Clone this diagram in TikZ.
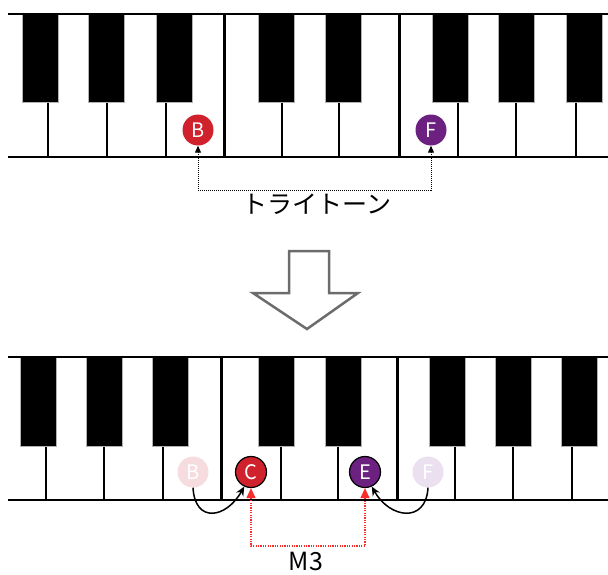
\documentclass[tikz,border=0pt]{standalone}
\usepackage{fontspec}
\setmainfont{Noto Sans CJK JP}
\usetikzlibrary{arrows.meta, positioning, calc}
\definecolor{notered}{RGB}{208,34,44}
\definecolor{notepurple}{RGB}{108,32,128}
\definecolor{fadered}{RGB}{246,220,222}
\definecolor{fadepurple}{RGB}{234,224,240}
\definecolor{linered}{RGB}{250,45,45}
\tikzset{blackkey/.style={fill=black, draw=gray!60, line width=0.8pt}}
\tikzset{keyline/.style={line width=2pt}}
\tikzset{splitline/.style={line width=3pt}}
\tikzset{edgeline/.style={line width=1.5pt}}
\tikzset{note/.style={circle, minimum size=31pt, inner sep=0pt, text=white, font=\fontsize{20}{20}\selectfont}}
\tikzset{played/.style={note, draw=black, line width=1.2pt}}
\tikzset{dotlink/.style={dash pattern=on 1pt off 1pt, line width=1pt, {Triangle[length=7pt,width=6pt]}-{Triangle[length=7pt,width=6pt]}}}
\tikzset{reddotlink/.style={draw=linered, dash pattern=on 1.2pt off 1.2pt, line width=1.2pt, {Triangle[length=10pt,width=9pt]}-{Triangle[length=10pt,width=9pt]}}}
\tikzset{shiftarrow/.style={-{Stealth[length=9pt,width=8pt]}, line width=1.5pt}}
\tikzset{textlabel/.style={font=\fontsize{25}{25}\selectfont}}
\tikzset{bigarrow/.style={draw=gray!85!black, line width=2.5pt, fill=white}}

\begin{document}
\begin{tikzpicture}[x=1pt, y=-1pt]
\useasboundingbox (0,0) rectangle (608,574);

% top keyboard
\foreach \x in {48,107,166,282,339,458,516,576} \draw[keyline] (\x,102) -- (\x,157);
\foreach \x in {224,399} \draw[splitline] (\x,14) -- (\x,157);
\foreach \x in {22,88,156,258,325,432,498,566} \draw[blackkey] (\x,14) rectangle ++(36,88);
\draw[edgeline] (8,14) -- (608,14);
\draw[edgeline] (8,157) -- (608,157);

\node[note, fill=notered] (b1) at (198,130) {B};
\node[note, fill=notepurple] (f1) at (431,130) {F};
\coordinate (tritone) at (0,190);
\draw[dotlink] (b1.south) |- (tritone -| f1.south) -- (f1.south);
\node[textlabel] (tritonelabel) at (317,204) {トライトーン};

% arrow
\draw[bigarrow] (289,251) -- (329,251) -- (329,293) -- (358,293) -- (307,329) -- (253,293) -- (289,293) -- cycle;

% bottom keyboard
\foreach \x in {46,104,163,281,338,455,513,572} \draw[keyline] (\x,446) -- (\x,500);
\foreach \x in {221,397} \draw[splitline] (\x,357) -- (\x,500);
\foreach \x in {20,86,152,258,325,429,495,561} \draw[blackkey] (\x,357) rectangle ++(36,89);
\draw[edgeline] (8,357) -- (608,357);
\draw[edgeline] (8,500) -- (608,500);

\node[note, fill=fadered] (b2) at (193,472) {B};
\node[played, fill=notered] (c2) at (251,472) {C};
\node[played, fill=notepurple] (e2) at (365,472) {E};
\node[note, fill=fadepurple] (f2) at (428,472) {F};
\draw[shiftarrow] (b2.south) .. controls +(2,36) and +(-18,32) .. (c2.-115);
\draw[shiftarrow] (f2.south) .. controls +(-2,36) and +(18,32) .. (e2.-65);
\coordinate (third) at (0,546);
\draw[reddotlink] (c2.south) |- (third -| e2.south) -- (e2.south);
\node[textlabel] (thirdlabel) at (306,561) {M3};
\end{tikzpicture}
\end{document}
